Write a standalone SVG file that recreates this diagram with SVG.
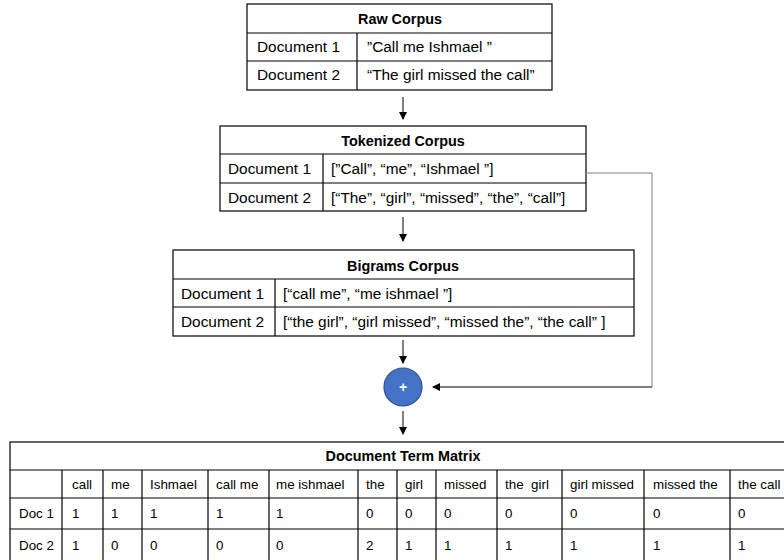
<svg xmlns="http://www.w3.org/2000/svg" width="784" height="560" viewBox="0 0 784 560">
<style>
.box{fill:#fff;stroke:#000;stroke-width:1.2}
.ln{stroke:#000;stroke-width:1.2;fill:none}
.t{font-family:"Liberation Sans",Arial,sans-serif;font-size:15.4px;fill:#000;white-space:pre}
.h{font-family:"Liberation Sans",Arial,sans-serif;font-size:14.4px;font-weight:bold;fill:#000;text-anchor:middle}
.m{font-family:"Liberation Sans",Arial,sans-serif;font-size:13.4px;fill:#000;white-space:pre}
.c{stroke:#000;stroke-width:1;fill:none}
.g{stroke:#808080;stroke-width:1;fill:none}
</style>
<defs>
<marker id="ah" markerWidth="8" markerHeight="8" refX="7" refY="4" orient="auto" markerUnits="userSpaceOnUse">
<path d="M0,0 L8,4 L0,8 Z" fill="#000"/>
</marker>
</defs>

<g id="raw-corpus">
<rect class="box" x="247" y="4" width="305" height="86"/>
<line class="ln" x1="247" y1="33" x2="552" y2="33"/>
<line class="ln" x1="247" y1="61" x2="552" y2="61"/>
<line class="ln" x1="357" y1="33" x2="357" y2="90"/>
<text class="h" x="400" y="24">Raw Corpus</text>
<text class="t" x="257" y="52">Document 1</text>
<text class="t" x="367" y="52">”Call me Ishmael ”</text>
<text class="t" x="257" y="80">Document 2</text>
<text class="t" x="367" y="80">“The girl missed the call”</text>
</g>

<g id="tokenized-corpus">
<rect class="box" x="220" y="126" width="366" height="85"/>
<line class="ln" x1="220" y1="154" x2="586" y2="154"/>
<line class="ln" x1="220" y1="183" x2="586" y2="183"/>
<line class="ln" x1="323" y1="154" x2="323" y2="211"/>
<text class="h" x="403" y="146">Tokenized Corpus</text>
<text class="t" x="228" y="174">Document 1</text>
<text class="t" x="331" y="174">[”Call”, “me”, “Ishmael ”]</text>
<text class="t" x="228" y="203">Document 2</text>
<text class="t" x="331" y="203">[“The”, “girl”, “missed”, “the”, “call”]</text>
</g>

<g id="bigrams-corpus">
<rect class="box" x="173" y="250" width="461" height="86"/>
<line class="ln" x1="173" y1="279" x2="634" y2="279"/>
<line class="ln" x1="173" y1="307" x2="634" y2="307"/>
<line class="ln" x1="275" y1="279" x2="275" y2="336"/>
<text class="h" x="403" y="271">Bigrams Corpus</text>
<text class="t" x="181" y="299">Document 1</text>
<text class="t" x="283" y="299">[“call me”, “me ishmael ”]</text>
<text class="t" x="181" y="327">Document 2</text>
<text class="t" x="283" y="327">[“the girl”, “girl missed”, “missed the”, “the call” ]</text>
</g>

<g id="plus">
<circle cx="403" cy="387" r="19" fill="#4472C4" stroke="#2F528F" stroke-width="1.2"/>
<text x="403" y="391.5" font-family="Liberation Sans,Arial,sans-serif" font-size="14" font-weight="bold" fill="#fff" text-anchor="middle">+</text>
</g>

<g id="document-term-matrix">
<rect class="box" x="10" y="442" width="790" height="122"/>
<line class="ln" x1="10" y1="470" x2="800" y2="470"/>
<line class="ln" x1="10" y1="498" x2="800" y2="498"/>
<line class="ln" x1="10" y1="529" x2="800" y2="529"/>
<g class="ln">
<line x1="62" y1="470" x2="62" y2="564"/>
<line x1="103" y1="470" x2="103" y2="564"/>
<line x1="142" y1="470" x2="142" y2="564"/>
<line x1="208" y1="470" x2="208" y2="564"/>
<line x1="269" y1="470" x2="269" y2="564"/>
<line x1="358" y1="470" x2="358" y2="564"/>
<line x1="397" y1="470" x2="397" y2="564"/>
<line x1="436" y1="470" x2="436" y2="564"/>
<line x1="497" y1="470" x2="497" y2="564"/>
<line x1="562" y1="470" x2="562" y2="564"/>
<line x1="644" y1="470" x2="644" y2="564"/>
<line x1="730" y1="470" x2="730" y2="564"/>
</g>
<text class="h" x="403" y="461">Document Term Matrix</text>
<text class="m" x="72" y="489">call</text>
<text class="m" x="111" y="489">me</text>
<text class="m" x="150" y="489">Ishmael</text>
<text class="m" x="216" y="489">call me</text>
<text class="m" x="276" y="489">me ishmael</text>
<text class="m" x="366" y="489">the</text>
<text class="m" x="405" y="489">girl</text>
<text class="m" x="444" y="489">missed</text>
<text class="m" x="505" y="489">the  girl</text>
<text class="m" x="570" y="489">girl missed</text>
<text class="m" x="653" y="489">missed the</text>
<text class="m" x="738" y="489">the call</text>
<text class="m" x="19" y="518">Doc 1</text>
<text class="m" x="72" y="518">1</text>
<text class="m" x="111" y="518">1</text>
<text class="m" x="150" y="518">1</text>
<text class="m" x="216" y="518">1</text>
<text class="m" x="276" y="518">1</text>
<text class="m" x="366" y="518">0</text>
<text class="m" x="405" y="518">0</text>
<text class="m" x="444" y="518">0</text>
<text class="m" x="505" y="518">0</text>
<text class="m" x="570" y="518">0</text>
<text class="m" x="653" y="518">0</text>
<text class="m" x="738" y="518">0</text>
<text class="m" x="19" y="550">Doc 2</text>
<text class="m" x="72" y="550">1</text>
<text class="m" x="111" y="550">0</text>
<text class="m" x="150" y="550">0</text>
<text class="m" x="216" y="550">0</text>
<text class="m" x="276" y="550">0</text>
<text class="m" x="366" y="550">2</text>
<text class="m" x="405" y="550">1</text>
<text class="m" x="444" y="550">1</text>
<text class="m" x="505" y="550">1</text>
<text class="m" x="570" y="550">1</text>
<text class="m" x="653" y="550">1</text>
<text class="m" x="738" y="550">1</text>
</g>

<g id="connectors">
<line class="c" x1="403" y1="97" x2="403" y2="119" marker-end="url(#ah)"/>
<line class="c" x1="403" y1="217" x2="403" y2="241" marker-end="url(#ah)"/>
<line class="c" x1="403" y1="340" x2="403" y2="363" marker-end="url(#ah)"/>
<line class="c" x1="403" y1="411" x2="403" y2="434" marker-end="url(#ah)"/>
<polyline class="g" points="586,173 652,173 652,387"/>
<line class="c" x1="652" y1="387" x2="433" y2="387" marker-end="url(#ah)"/>
</g>
</svg>
